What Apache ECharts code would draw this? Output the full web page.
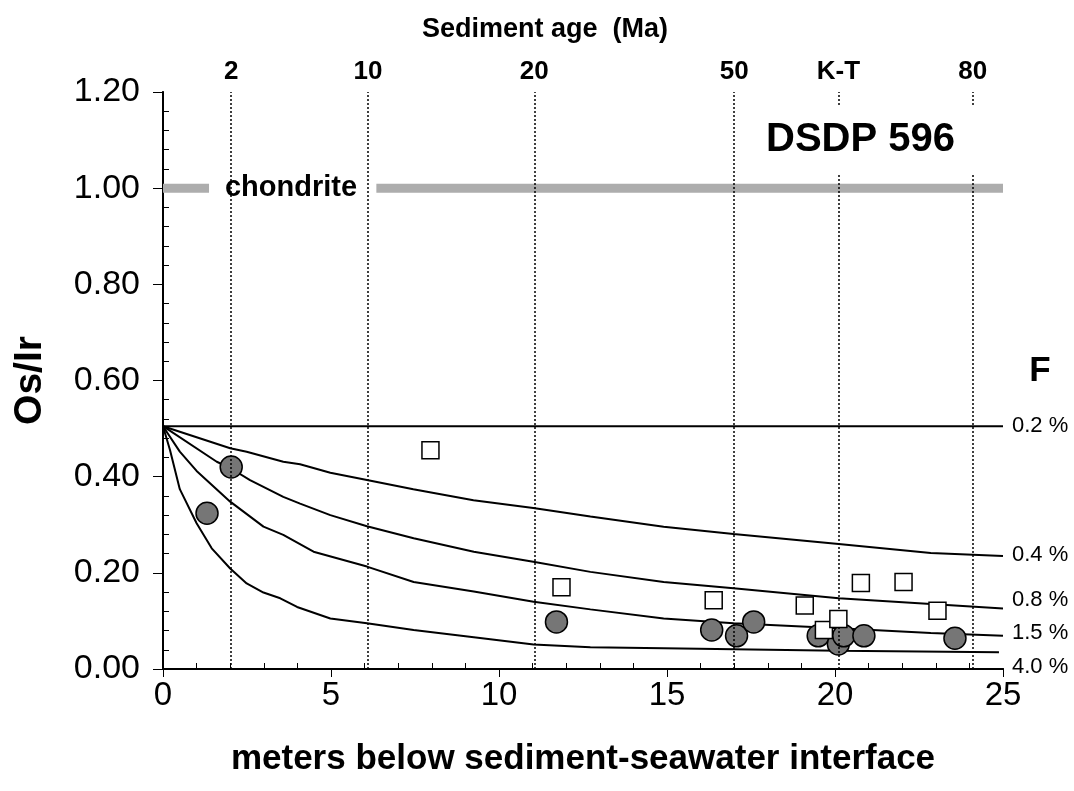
<!DOCTYPE html>
<html>
<head>
<meta charset="utf-8">
<script src="https://cdn.jsdelivr.net/npm/echarts@6/dist/echarts.min.js"></script>
<style>
html, body { margin: 0; padding: 0; background: #fff; }
#main { width: 1074px; height: 791px; }
</style>
</head>
<body>
<div id="main"></div>
<script>
var FONT = '"Liberation Sans", Arial, sans-serif';

// top axis: sediment age marks (position in metres) and their labels
var agePos = [2.03, 6.1, 11.05, 17.0, 20.1, 24.1];
var ageLabels = ['2', '10', '20', '50', 'K-T', '80'];

// chondrite reference band (Os/Ir = 1.00), broken for the label
var chondriteLeft = [[0, 1.0], [1.37, 1.0]];
var chondriteRight = [[6.35, 1.0], [25, 1.0]];

// model curves for different F values
var curveF02 = [[0, 0.505], [25, 0.505]];
var curveF04 = [[0, 0.505], [2.0, 0.459], [2.49, 0.452], [3.58, 0.431], [4.08, 0.426], [4.98, 0.408],
  [6.07, 0.393], [7.45, 0.374], [9.24, 0.351], [11.02, 0.335], [12.72, 0.317], [14.9, 0.296],
  [16.98, 0.281], [20.11, 0.26], [22.85, 0.241], [25, 0.235]];
var curveF08 = [[0, 0.505], [1.6, 0.431], [2.0, 0.418], [2.59, 0.393], [3.58, 0.358], [4.08, 0.344],
  [4.98, 0.32], [6.07, 0.297], [7.46, 0.272], [9.25, 0.244], [11.02, 0.223], [12.72, 0.202],
  [14.9, 0.181], [16.98, 0.168], [20.11, 0.147], [22.85, 0.135], [25, 0.126]];
var curveF15 = [[0, 0.505], [0.5, 0.452], [1.0, 0.412], [2.0, 0.348], [2.99, 0.296], [3.58, 0.279],
  [4.48, 0.244], [6.07, 0.213], [7.46, 0.181], [9.25, 0.161], [11.03, 0.14], [12.72, 0.124],
  [14.9, 0.105], [16.98, 0.095], [20.11, 0.085], [22.85, 0.075], [25, 0.069]];
var curveF40 = [[0, 0.505], [0.21, 0.455], [0.5, 0.374], [1.0, 0.303], [1.45, 0.251], [2.0, 0.209],
  [2.49, 0.178], [2.99, 0.159], [3.49, 0.147], [3.99, 0.129], [4.98, 0.105], [6.07, 0.095],
  [7.46, 0.081], [9.25, 0.066], [11.03, 0.051], [12.72, 0.045], [14.9, 0.043], [20.11, 0.038],
  [24.88, 0.035]];

var curveNames = ['0.2 %', '0.4 %', '0.8 %', '1.5 %', '4.0 %'];
var curveLabelY = [0.505, 0.237, 0.143, 0.075, 0.004];

// measured Os/Ir
var filledPoints = [[1.31, 0.324], [2.03, 0.42], [11.71, 0.098], [16.33, 0.081], [17.07, 0.069],
  [17.58, 0.098], [19.5, 0.069], [20.1, 0.052], [20.26, 0.069], [20.86, 0.069], [23.57, 0.064]];
var openPoints = [[7.96, 0.455], [11.86, 0.17], [16.39, 0.143], [19.1, 0.132], [19.67, 0.081],
  [20.1, 0.104], [20.77, 0.179], [22.04, 0.181], [23.05, 0.121]];

var chart = echarts.init(document.getElementById('main'));

function curveSeries(data) {
  return {
    type: 'line', data: data, symbol: 'none', silent: true, z: 3,
    lineStyle: { color: '#000', width: 2 }
  };
}

var option = {
  animation: false,
  backgroundColor: '#fff',
  grid: { left: 163, right: 71, top: 92, bottom: 122 },
  xAxis: [{
    type: 'value', min: 0, max: 25, interval: 5,
    name: 'meters below sediment-seawater interface',
    nameLocation: 'middle', nameGap: 73,
    nameTextStyle: { fontFamily: FONT, fontWeight: 'bold', fontSize: 35, color: '#000' },
    axisLine: { lineStyle: { color: '#000', width: 2 } },
    axisTick: { length: 8, lineStyle: { color: '#000', width: 1 } },
    minorTick: { show: true, splitNumber: 5, length: -6, lineStyle: { color: '#000', width: 1 } },
    axisLabel: { fontFamily: FONT, fontSize: 33, color: '#000', margin: 10 },
    splitLine: { show: false }
  }, {
    type: 'value', min: 0, max: 25, position: 'top',
    axisLine: { show: true, lineStyle: { color: '#000', width: 2 } },
    axisTick: { show: false },
    axisLabel: {
      customValues: agePos,
      fontFamily: FONT, fontWeight: 'bold', fontSize: 26, color: '#000', margin: 7,
      formatter: function (v) {
        for (var i = 0; i < agePos.length; i++) {
          if (Math.abs(agePos[i] - v) < 1e-6) return ageLabels[i];
        }
        return '';
      }
    },
    splitLine: { show: false }
  }],
  yAxis: [{
    type: 'value', min: 0, max: 1.2, interval: 0.2,
    name: 'Os/Ir', nameLocation: 'middle', nameGap: 113, nameRotate: 90,
    nameTextStyle: { fontFamily: FONT, fontWeight: 'bold', fontSize: 39, color: '#000' },
    axisLine: { show: true, lineStyle: { color: '#000', width: 2 } },
    axisTick: { show: true, length: 10, lineStyle: { color: '#000', width: 1 } },
    minorTick: { show: true, splitNumber: 5, length: -6, lineStyle: { color: '#000', width: 1 } },
    axisLabel: {
      fontFamily: FONT, fontSize: 34, color: '#000', margin: 23,
      formatter: function (v) { return v.toFixed(2); }
    },
    splitLine: { show: false }
  }, {
    type: 'value', min: 0, max: 1.2, position: 'right',
    axisLine: { show: true, lineStyle: { color: '#000', width: 1.5 } },
    axisTick: { show: false }, axisLabel: { show: false }, splitLine: { show: false }
  }],
  series: [
    {
      type: 'line', data: chondriteLeft, symbol: 'none', silent: true, z: 1,
      lineStyle: { color: '#adadad', width: 9, cap: 'butt' }
    },
    {
      type: 'line', data: chondriteRight, symbol: 'none', silent: true, z: 1,
      lineStyle: { color: '#adadad', width: 9, cap: 'butt' }
    },
    {
      type: 'scatter', data: [], silent: true, z: 2,
      markLine: {
        silent: true, symbol: ['none', 'none'], label: { show: false },
        lineStyle: { color: '#000', width: 1.5, type: [2, 2] },
        data: agePos.map(function (v) { return { xAxis: v }; })
      }
    },
    curveSeries(curveF02),
    curveSeries(curveF04),
    curveSeries(curveF08),
    curveSeries(curveF15),
    curveSeries(curveF40),
    {
      type: 'scatter', data: filledPoints, symbol: 'circle', symbolSize: 22, z: 4,
      itemStyle: { color: '#767676', borderColor: '#000', borderWidth: 1.5, opacity: 1 }
    },
    {
      type: 'scatter', data: openPoints, symbol: 'rect', symbolSize: 17, z: 5,
      itemStyle: { color: '#fff', borderColor: '#000', borderWidth: 1.5, opacity: 1 }
    }
  ]
};

chart.setOption(option);

// texts placed against the axes
var graphics = [];
graphics.push({
  type: 'text', z: 10,
  style: { text: 'Sediment age  (Ma)', x: 545, y: 30, align: 'center', verticalAlign: 'middle',
    font: 'bold 27px ' + FONT, fill: '#000' }
});
graphics.push({
  type: 'text', z: 10,
  style: { text: 'DSDP 596', x: 758, y: 140, align: 'left', verticalAlign: 'middle',
    font: 'bold 40px ' + FONT, fill: '#000', backgroundColor: '#fff', padding: [15, 28, 15, 8] }
});
var chondritePos = chart.convertToPixel({ gridIndex: 0 }, [3.81, 1.0]);
graphics.push({
  type: 'text', z: 10,
  style: { text: 'chondrite', x: chondritePos[0], y: chondritePos[1], align: 'center',
    verticalAlign: 'middle', font: 'bold 29px ' + FONT, fill: '#000' }
});
graphics.push({
  type: 'text', z: 10,
  style: { text: 'F', x: 1040, y: 371, align: 'center', verticalAlign: 'middle',
    font: 'bold 35px ' + FONT, fill: '#000' }
});
curveNames.forEach(function (name, i) {
  var p = chart.convertToPixel({ gridIndex: 0 }, [25, curveLabelY[i]]);
  graphics.push({
    type: 'text', z: 10,
    style: { text: name, x: p[0] + 9, y: p[1], align: 'left', verticalAlign: 'middle',
      font: '22px ' + FONT, fill: '#000' }
  });
});
chart.setOption({ graphic: graphics });
</script>
</body>
</html>
